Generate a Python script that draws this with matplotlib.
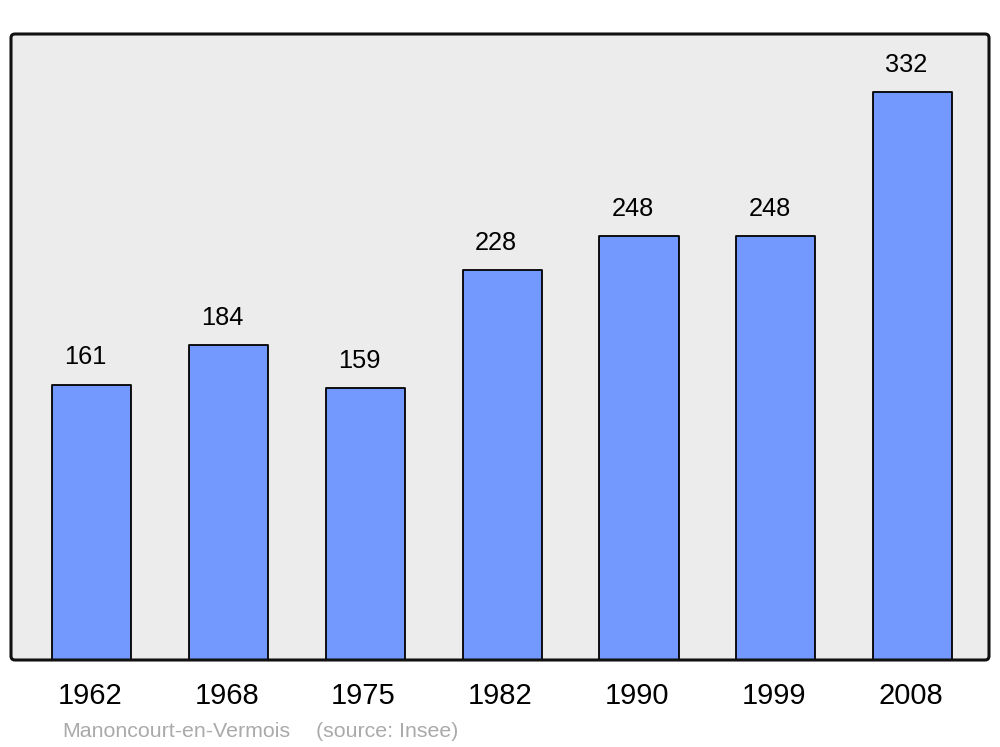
import matplotlib
matplotlib.use("Agg")
import matplotlib.pyplot as plt
from matplotlib.patches import FancyBboxPatch

plt.rcParams['font.family'] = ['Liberation Sans', 'DejaVu Sans']

# Population data (Insee)
years = ['1962', '1968', '1975', '1982', '1990', '1999', '2008']
population = [161, 184, 159, 228, 248, 248, 332]
commune = 'Manoncourt-en-Vermois'
source = '(source: Insee)'

W, H = 1000, 747
fig = plt.figure(figsize=(W / 100, H / 100), dpi=100)

# axes box in pixels: x 11..989, y 34..660
ax = fig.add_axes([11 / W, (H - 660) / H, 978 / W, 626 / H])
ax.set_facecolor('#ececec')
for s in ax.spines.values():
    s.set_visible(False)

xs = list(range(len(years)))
ax.bar(xs, population, width=0.578, color='#7399ff', edgecolor='black',
       linewidth=1.3, joinstyle='round', zorder=2)

ax.set_xlim(-0.592, 6.559)
ax.set_ylim(0, 366)
ax.set_xticks([])
ax.set_yticks([])

# value labels above bars
for x, v in zip(xs, population):
    ax.annotate(str(v), (x, v), xytext=(-4.6, 14.5), textcoords='offset points',
                ha='center', va='baseline', fontsize=18.3, color='black')

# year labels under the axis
for x, y in zip(xs, years):
    ax.annotate(y, (x, 0), xycoords=('data', 'axes fraction'), xytext=(-1.5, -32),
                textcoords='offset points', ha='center', va='baseline',
                fontsize=21, color='black')

# rounded frame
frame = FancyBboxPatch((11 / W, (H - 660) / H), 978 / W, 626 / H,
                       boxstyle='round,pad=0,rounding_size=0.004',
                       mutation_aspect=W / H, transform=fig.transFigure,
                       facecolor='none', edgecolor='#111111', linewidth=2.2,
                       zorder=5)
fig.add_artist(frame)

fig.text(62 / W, (H - 737) / H, commune, fontsize=15.4, color='#aaaaaa', va='baseline')
fig.text(316 / W, (H - 737) / H, source, fontsize=15.4, color='#aaaaaa', va='baseline')

fig.savefig('out.png', dpi=100, facecolor='white')
